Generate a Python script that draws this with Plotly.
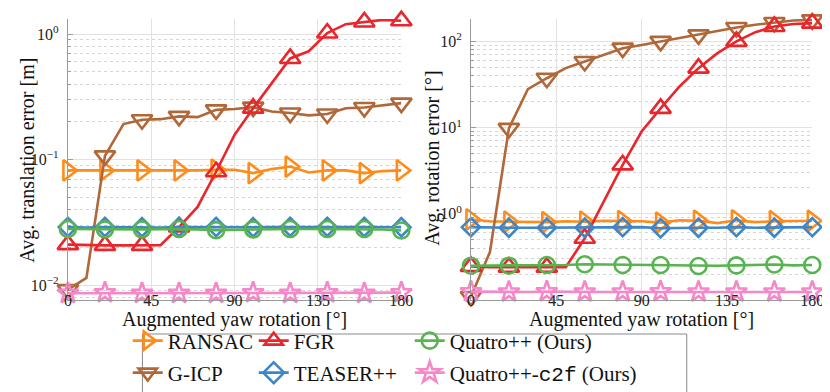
import plotly.graph_objects as go

# ---------------- data ----------------
yaw = [0, 10, 20, 30, 40, 50, 60, 70, 80, 90, 100, 110, 120, 130, 140, 150, 160, 170, 180]

# translation error [m]
trans_ransac = [0.082, 0.082, 0.082, 0.082, 0.082, 0.081, 0.082, 0.082, 0.083, 0.083, 0.078, 0.084,
                0.088, 0.079, 0.082, 0.082, 0.078, 0.081, 0.082]
trans_gicp = [0.0092, 0.0114, 0.107, 0.192, 0.208, 0.21, 0.221, 0.218, 0.249, 0.253, 0.262, 0.242,
              0.235, 0.225, 0.231, 0.257, 0.26, 0.27, 0.282]
trans_fgr = [0.021, 0.0208, 0.0207, 0.0207, 0.0207, 0.0208, 0.029, 0.042, 0.08, 0.158, 0.257, 0.41,
             0.64, 0.73, 1.02, 1.2, 1.25, 1.3, 1.28]
trans_teaser = [0.0290, 0.0288, 0.0290, 0.0289, 0.0289, 0.0288, 0.0290, 0.0289, 0.0290, 0.0290, 0.0289,
                0.0290, 0.0291, 0.0290, 0.0291, 0.0290, 0.0290, 0.0289, 0.0289]
trans_quatro = [0.0280, 0.0279, 0.0278, 0.0278, 0.0278, 0.0279, 0.0280, 0.0278, 0.0274, 0.0276, 0.0278,
                0.0279, 0.0280, 0.0280, 0.0280, 0.0279, 0.0280, 0.0277, 0.0272]
trans_c2f = [0.0086, 0.0086, 0.0087, 0.0086, 0.0086, 0.0086, 0.0086, 0.0086, 0.0086, 0.0086, 0.0087,
             0.0086, 0.0086, 0.0086, 0.0087, 0.0086, 0.0086, 0.0086, 0.0087]

# rotation error [deg]
rot_ransac = [0.86, 0.82, 0.81, 0.80, 0.80, 0.82, 0.81, 0.83, 0.82, 0.82, 0.79, 0.84, 0.83, 0.78,
              0.84, 0.80, 0.82, 0.82, 0.83]
rot_gicp = [0.11, 0.36, 9.8, 27.9, 37.4, 49, 58.5, 70, 83.5, 91, 100, 109, 119, 133, 145, 156, 166, 175, 178]
rot_fgr = [0.245, 0.24, 0.24, 0.24, 0.24, 0.24, 0.52, 1.4, 3.7, 9.0, 16.7, 30, 49, 73, 100, 128, 149, 159, 163]
rot_teaser = [0.70, 0.69, 0.69, 0.69, 0.69, 0.69, 0.69, 0.70, 0.70, 0.70, 0.68, 0.69, 0.69, 0.69, 0.70,
              0.69, 0.69, 0.69, 0.70]
rot_quatro = [0.25, 0.25, 0.25, 0.25, 0.255, 0.255, 0.26, 0.258, 0.255, 0.255, 0.255, 0.252, 0.248,
              0.25, 0.252, 0.255, 0.258, 0.252, 0.255]
rot_c2f = [0.125, 0.124, 0.124, 0.124, 0.125, 0.124, 0.124, 0.124, 0.124, 0.124, 0.125, 0.124, 0.124,
           0.124, 0.124, 0.124, 0.124, 0.124, 0.124]

x_ticks = [0, 45, 90, 135, 180]
names = ["RANSAC", "G-ICP", "FGR", "TEASER++", "Quatro++ (Ours)",
         "Quatro++-<span style='font-family:\"Liberation Mono\", \"DejaVu Sans Mono\", monospace'>c2f</span> (Ours)"]

# ---------------- style ----------------
colors = ["#FF8C1A", "#B0683A", "#E8262C", "#3E86C8", "#58B450", "#F588C8"]
symbols = ["triangle-right-open", "triangle-down-open", "triangle-up-open", "diamond-open",
           "circle-open", "star-open"]
msizes = [18, 18, 18, 14, 16, 16]
legend_of = ["legend", "legend2", "legend", "legend2", "legend", "legend2"]
legend_w = [81, 81, 111, 111, 235, 235]
LW = 2.6
SERIF = "Liberation Serif"

W, H = 830, 392
def px_x(p):
    return p / W
def px_y(p):
    return 1 - p / H

fig = go.Figure()
trans = [trans_ransac, trans_gicp, trans_fgr, trans_teaser, trans_quatro, trans_c2f]
rot = [rot_ransac, rot_gicp, rot_fgr, rot_teaser, rot_quatro, rot_c2f]

for i in range(6):
    for ys, xa, ya in [(trans[i], "x", "y"), (rot[i], "x2", "y2")]:
        fig.add_trace(go.Scatter(x=yaw, y=ys, mode="lines", xaxis=xa, yaxis=ya,
                                 line=dict(color=colors[i], width=LW), showlegend=False,
                                 hoverinfo="skip", cliponaxis=False))
        fig.add_trace(go.Scatter(x=yaw[::2], y=ys[::2], mode="markers", xaxis=xa, yaxis=ya,
                                 marker=dict(symbol=symbols[i], size=msizes[i], color=colors[i],
                                             line=dict(color=colors[i], width=LW)),
                                 showlegend=False, cliponaxis=False))

# legend entries (row-wise as in the reference)
for i in [0, 2, 4, 1, 3, 5]:
    fig.add_trace(go.Scatter(x=[None], y=[None], mode="lines+markers", name=names[i],
                             line=dict(color=colors[i], width=LW),
                             marker=dict(symbol=symbols[i], size=16, color=colors[i],
                                         line=dict(color=colors[i], width=LW)),
                             legend=legend_of[i], legendwidth=legend_w[i]))

grid_c = "#e2e2e2"
axis_c = "#9a9a9a"
tickfont = dict(family=SERIF, size=16, color="#222")

def xaxis_cfg(dom):
    return dict(domain=dom, range=[0, 180], tickvals=x_ticks, showgrid=True, gridcolor=grid_c,
                gridwidth=1, showline=True, linecolor=axis_c, linewidth=1, ticks="inside",
                ticklen=4, tickcolor=axis_c, tickfont=tickfont, zeroline=False,
                ticklabelstandoff=-14)

def yaxis_cfg(rng, tv, tt):
    return dict(type="log", domain=[px_y(292), px_y(11)], range=rng, tickvals=tv, ticktext=tt,
                showgrid=True, gridcolor=grid_c, gridwidth=1, showline=True, linecolor=axis_c,
                linewidth=1, ticks="inside", ticklen=5, tickcolor=axis_c, tickfont=tickfont,
                zeroline=False, ticklabelstandoff=5,
                minor=dict(dtick="D1", showgrid=True, gridcolor="#d6d6d6", griddash="dot",
                           ticks="inside", ticklen=3, tickcolor=axis_c))

leg_common = dict(orientation="h", xanchor="left", yanchor="middle", bgcolor="rgba(0,0,0,0)",
                  borderwidth=0, font=dict(family=SERIF, size=21, color="#111"), itemwidth=30,
                  tracegroupgap=0)

fig.update_layout(
    width=W, height=H, margin=dict(l=0, r=0, t=0, b=0),
    paper_bgcolor="white", plot_bgcolor="white",
    xaxis=xaxis_cfg([px_x(57), px_x(397)]),
    xaxis2=xaxis_cfg([px_x(468), px_x(816)]),
    yaxis=yaxis_cfg([-2.119, 0.1206], [0.01, 0.1, 1],
                    ["10<sup>−2</sup>", "10<sup>−1</sup>", "10<sup>0</sup>"]),
    yaxis2=yaxis_cfg([-1.0, 2.26], [1, 10, 100],
                     ["10<sup>0</sup>", "10<sup>1</sup>", "10<sup>2</sup>"]),
    legend=dict(x=px_x(118), y=px_y(333), **leg_common),
    legend2=dict(x=px_x(118), y=px_y(365), **leg_common),
    showlegend=True,
    font=dict(family=SERIF, color="#111"),
)
fig.update_layout(yaxis2=dict(anchor="x2"), xaxis2=dict(anchor="y2"))

title_font = dict(family=SERIF, size=20, color="#111")
ann = [
    dict(text="Augmented yaw rotation [°]", x=px_x(227), y=px_y(311)),
    dict(text="Augmented yaw rotation [°]", x=px_x(642), y=px_y(311)),
    dict(text="Avg. translation error [m]", x=px_x(15), y=px_y(152), textangle=-90),
    dict(text="Avg. rotation error [°]", x=px_x(428), y=px_y(150), textangle=-90),
]
for a in ann:
    fig.add_annotation(xref="paper", yref="paper", showarrow=False, font=title_font,
                       xanchor="center", yanchor="middle", **a)

# legend frame
fig.add_shape(type="rect", xref="paper", yref="paper", x0=px_x(133), x1=px_x(688),
              y0=px_y(391), y1=px_y(326), line=dict(color="#8a8a8a", width=1),
              fillcolor="rgba(0,0,0,0)", layer="below")

fig.write_html("out.html")
